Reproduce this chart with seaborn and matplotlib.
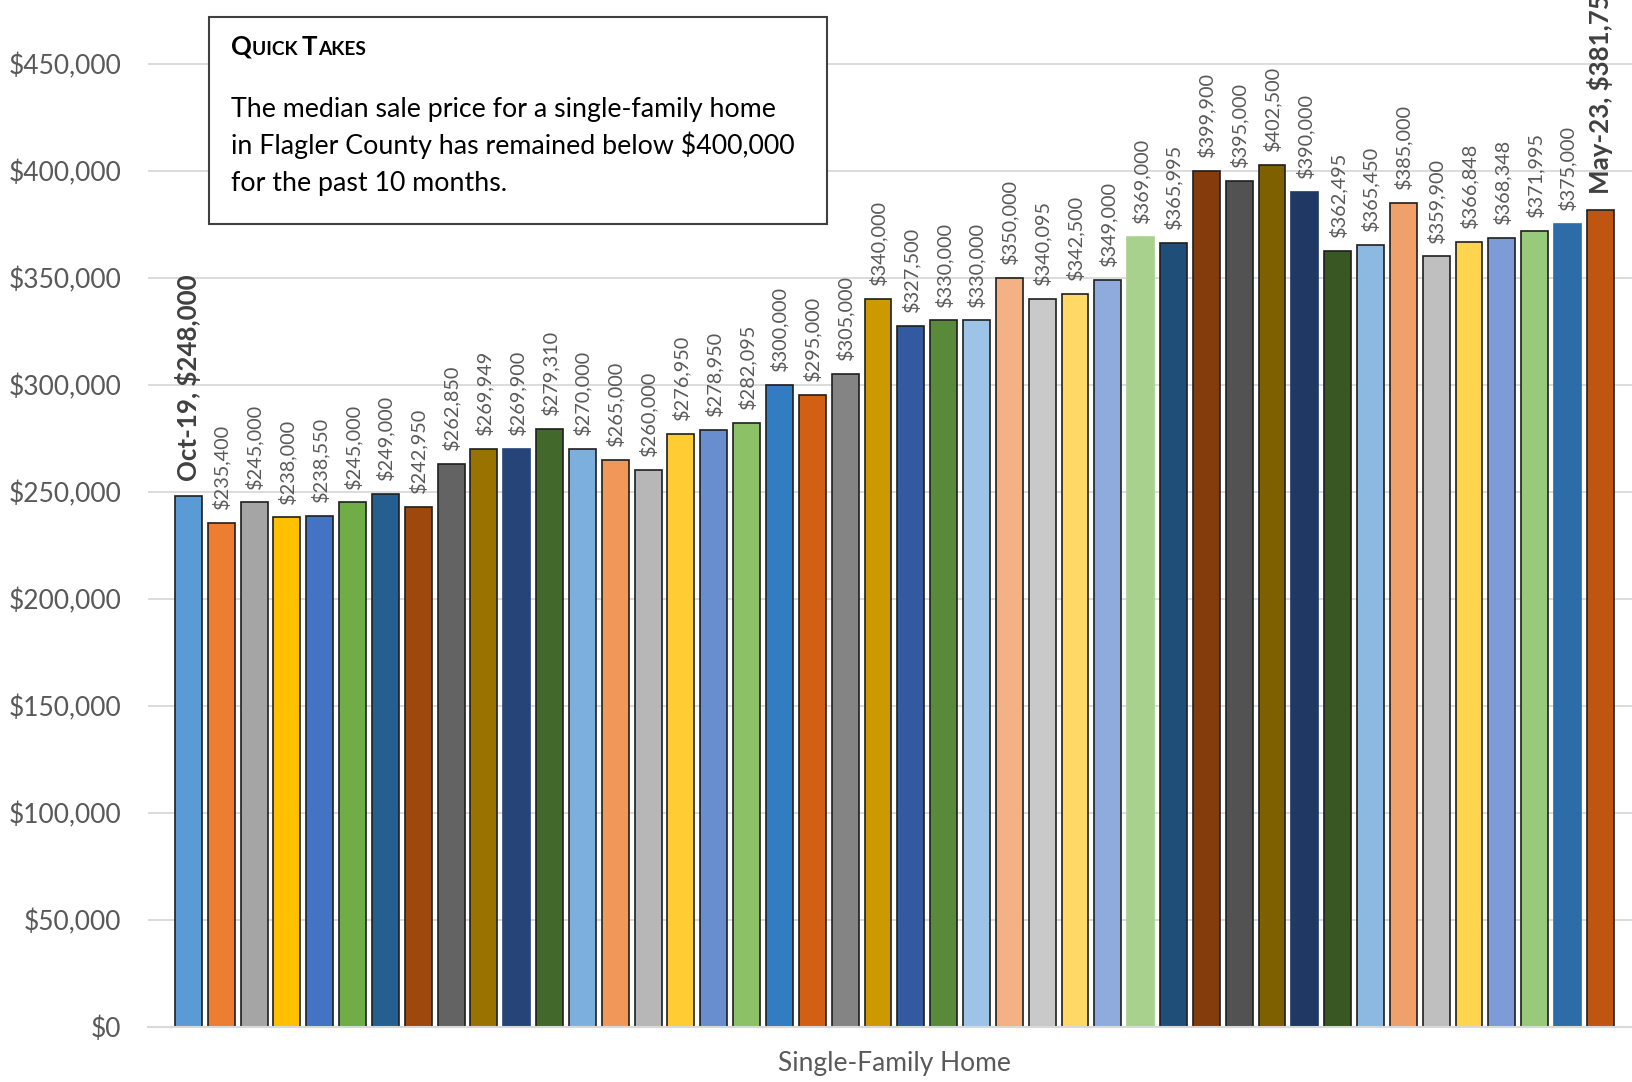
import numpy as np
import pandas as pd
import matplotlib.pyplot as plt
from matplotlib.patches import Rectangle
from matplotlib.ticker import FuncFormatter
import seaborn as sns

# monthly median sale price, single-family homes, Flagler County
months = list(pd.date_range("2019-10-01", periods=44, freq="MS").strftime("%b-%y"))
prices = [248000, 235400, 245000, 238000, 238550, 245000, 249000, 242950,
          262850, 269949, 269900, 279310, 270000, 265000, 260000, 276950,
          278950, 282095, 300000, 295000, 305000, 340000, 327500, 330000,
          330000, 350000, 340095, 342500, 349000, 369000, 365995, 399900,
          395000, 402500, 390000, 362495, 365450, 385000, 359900, 366848,
          368348, 371995, 375000, 381750]
colors = ["#5B9BD5", "#ED7D31", "#A5A5A5", "#FFC000", "#4472C4", "#70AD47",
          "#255E91", "#9E480E", "#636363", "#997300", "#264478", "#43682B",
          "#7CAFDD", "#F1975A", "#B7B7B7", "#FFCD33", "#698ED0", "#8CC168",
          "#327DC2", "#D26012", "#848484", "#CC9A00", "#335AA1", "#5A8A39",
          "#9DC3E6", "#F4B183", "#C9C9C9", "#FFD966", "#8FAADC", "#A9D18E",
          "#1F4E79", "#843C0C", "#525252", "#7F6000", "#203864", "#385723",
          "#8CB9E1", "#F0A06A", "#BFBFBF", "#FFD54F", "#7C9BD7", "#99C97B",
          "#2C6DA8", "#BE5511"]
no_edge = ["Aug-20", "Mar-22", "Aug-22", "Apr-23"]
highlight = ["Oct-19", "May-23"]

df = pd.DataFrame({"type": "Single-Family Home", "month": months, "price": prices})

sns.set_style("white")
plt.rcParams["font.family"] = ["Lato", "DejaVu Sans"]

W, H = 1633, 1082
fig = plt.figure(figsize=(W / 100, H / 100), dpi=100)
ax = fig.add_axes([148 / W, 55 / H, 1 - 148 / W, 1 - 55 / H])

sns.barplot(data=df, x="type", y="price", hue="month", hue_order=months,
            palette=colors, saturation=1, gap=0.18, errorbar=None,
            edgecolor="#1f1f1f", linewidth=1.2, legend=False, ax=ax)

for m, cont in zip(months, ax.containers):
    if m in no_edge:
        for p in cont:
            p.set_edgecolor(p.get_facecolor())
    v = prices[months.index(m)]
    if m in highlight:
        ax.bar_label(cont, labels=[f"{m}, ${v:,}"], rotation=90, padding=11,
                     fontsize=18.6, fontweight="bold", color="#404040")
    else:
        ax.bar_label(cont, labels=[f"${v:,}"], rotation=90, padding=10,
                     fontsize=14.3, color="#595959")

ax.set_ylim(0, 479660)
ax.set_xlim(-0.4133, 0.4090)
ax.set_yticks(np.arange(0, 450001, 50000))
ax.yaxis.set_major_formatter(FuncFormatter(lambda v, p: f"${v:,.0f}"))
ax.yaxis.grid(True, color="#D9D9D9", linewidth=1.3)
ax.set_axisbelow(True)
for s in ["left", "top", "right"]:
    ax.spines[s].set_visible(False)
ax.spines["bottom"].set_color("#D9D9D9")
ax.spines["bottom"].set_linewidth(1.5)
ax.set_xticks([-0.4133], minor=True)
ax.tick_params(axis="x", which="minor", length=7, width=1.5, color="#D9D9D9")
ax.tick_params(axis="x", which="major", length=0, pad=17, labelsize=19, labelcolor="#595959")
ax.tick_params(axis="y", length=0, pad=19, labelsize=19, labelcolor="#595959")
ax.set_xlabel("")
ax.set_ylabel("")

# quick takes box
def fx(x):
    return x / W

def fy(y):
    return 1 - y / H

fig.patches.append(Rectangle((fx(209), fy(224)), fx(827) - fx(209), fy(17) - fy(224),
                             transform=fig.transFigure, facecolor="white",
                             edgecolor="#404040", linewidth=1.5, zorder=5))

fig.canvas.draw()
r = fig.canvas.get_renderer()
x = 231
for piece, size in [("Q", 18.5), ("UICK ", 13.8), ("T", 18.5), ("AKES", 13.8)]:
    t = fig.text(fx(x), fy(55), piece, fontsize=size, fontweight="bold",
                 color="black", va="baseline", ha="left", zorder=6)
    x += t.get_window_extent(r).width

body = ["The median sale price for a single-family home",
        "in Flagler County has remained below $400,000",
        "for the past 10 months."]
for line, y in zip(body, [117, 154, 191.5]):
    fig.text(fx(231), fy(y), line, fontsize=19.3, color="black",
             va="baseline", ha="left", zorder=6)

fig.savefig("out.png", dpi=100)
